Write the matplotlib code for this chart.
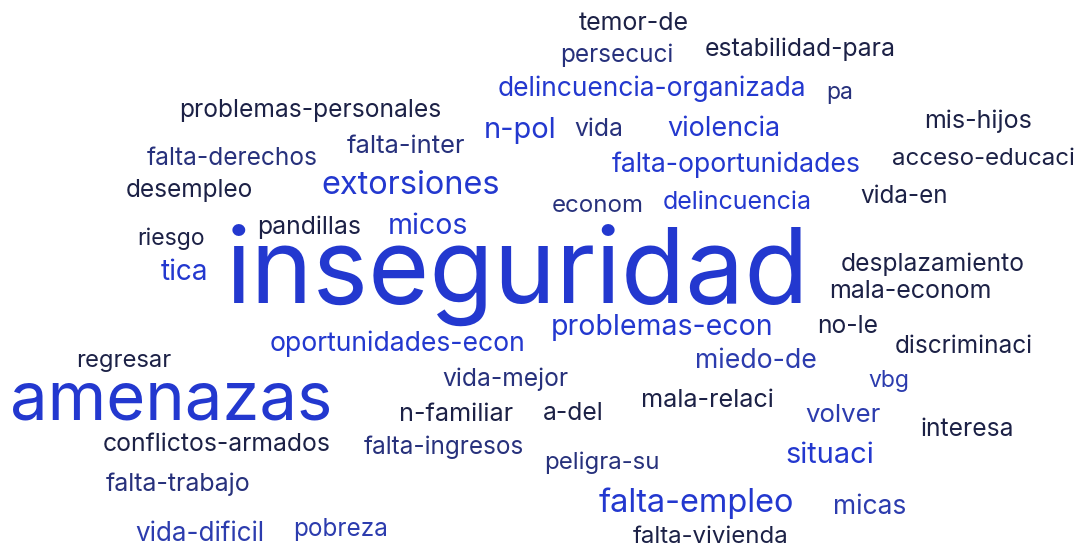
import matplotlib
matplotlib.use("Agg")
import matplotlib.pyplot as plt

# ── Word cloud data: words and their weights (≈ font size in px) ─────────────
words = [
    "temor-de", "persecuci", "estabilidad-para", "delincuencia-organizada", "pa",
    "problemas-personales", "n-pol", "vida", "violencia", "mis-hijos",
    "falta-inter", "falta-derechos", "falta-oportunidades", "acceso-educaci", "desempleo",
    "extorsiones", "econom", "delincuencia", "vida-en", "riesgo",
    "pandillas", "micos", "tica", "inseguridad", "desplazamiento",
    "mala-econom", "problemas-econ", "no-le", "oportunidades-econ", "discriminaci",
    "regresar", "miedo-de", "vida-mejor", "vbg", "amenazas",
    "mala-relaci", "n-familiar", "a-del", "volver", "interesa",
    "conflictos-armados", "falta-ingresos", "situaci", "peligra-su", "falta-trabajo",
    "falta-empleo", "micas", "vida-dificil", "pobreza", "falta-vivienda",
]
weights = [
    25, 24.3, 24.8, 26.4, 23,
    24.6, 29, 24.7, 27, 25,
    25.5, 24.5, 26.7, 24, 24.4,
    32.5, 24, 25, 24.2, 23,
    24.8, 28.5, 28, 105, 24.6,
    25, 28.5, 24.6, 26.5, 24.4,
    23.8, 26.7, 24.6, 23, 67,
    25.2, 25.2, 24.6, 25.8, 24.6,
    24.7, 24.3, 29, 24, 25,
    32.5, 26.4, 26, 24.3, 24,
]

# ── Layout: left x and baseline y in pixels (origin top-left) ────────────────
pos_x = [
    579, 560, 705, 498, 826,
    179, 484, 574, 667, 924,
    347, 147, 612, 892, 126,
    321, 552, 663, 860, 137,
    257, 388, 161, 226, 841,
    829, 551, 817, 270, 895,
    76, 695, 442, 868, 10,
    641, 399, 543, 805, 921,
    103, 364, 785, 544, 106,
    599, 833, 135, 293, 633,
]
pos_y = [
    30, 62, 56, 96, 99,
    117, 138, 136, 136, 128,
    153, 165, 172, 165, 197,
    194, 212, 209, 203, 245,
    234, 234, 280, 303, 271,
    298, 335, 333, 351, 353,
    367, 368, 386, 387, 419,
    407, 421, 420, 422, 436,
    451, 454, 463, 469, 491,
    512, 514, 541, 536, 543,
]

# shade index: 0 bright blue, 1 medium blue, 2 navy, 3 dark
shade = [
    3, 2, 3, 0, 2,
    3, 0, 2, 0, 3,
    2, 2, 0, 3, 3,
    0, 2, 0, 3, 3,
    3, 0, 0, 0, 3,
    3, 0, 3, 0, 3,
    3, 1, 2, 1, 0,
    3, 3, 3, 1, 3,
    3, 2, 0, 2, 2,
    0, 1, 1, 1, 3,
]
PALETTE = ["#2338CF", "#2C3CAE", "#27317C", "#1C2146"]

W, H = 1077, 546
fig = plt.figure(figsize=(W / 100, H / 100), dpi=100)
ax = fig.add_axes([0, 0, 1, 1])
ax.set_xlim(0, W)
ax.set_ylim(H, 0)
ax.set_axis_off()

for w, s, x, y, c in zip(words, weights, pos_x, pos_y, shade):
    ax.text(x, y, w, fontsize=s * 0.72, color=PALETTE[c],
            family=["Inter", "DejaVu Sans"], ha="left", va="baseline")

fig.savefig("out.png", dpi=100, facecolor="white")
